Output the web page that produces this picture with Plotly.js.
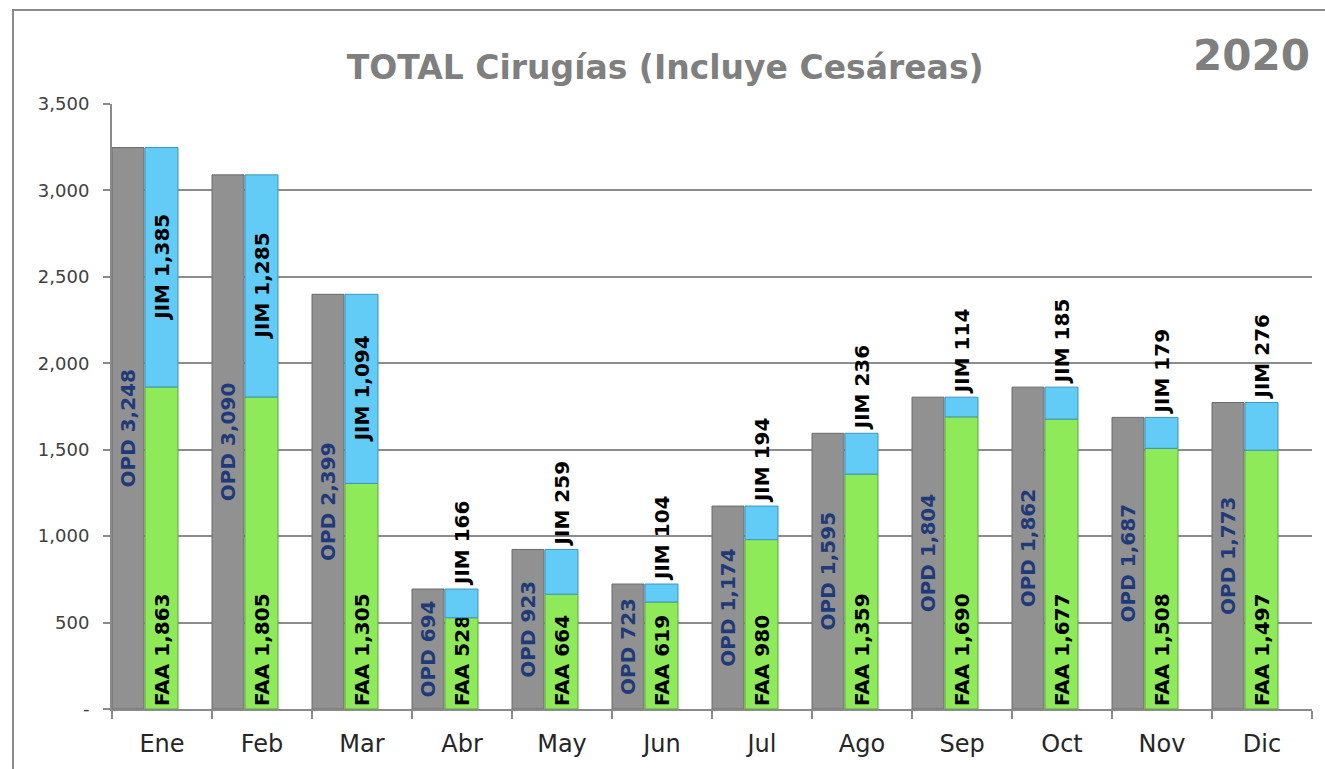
<!DOCTYPE html>
<html>
<head>
<meta charset="utf-8">
<script src="https://cdn.plot.ly/plotly-3.0.1.min.js"></script>
<style>
  html, body { margin: 0; padding: 0; background: #ffffff; }
  #wrap { position: relative; width: 1325px; height: 769px; overflow: hidden; }
  #chart { position: absolute; left: 0; top: 0; width: 1325px; height: 769px; }
  #frame { position: absolute; left: 12px; top: 9px; width: 1400px; height: 900px;
           border-left: 2px solid #8a8a8a; border-top: 2px solid #8a8a8a; pointer-events: none; }
</style>
</head>
<body>
<div id="wrap">
  <div id="chart"></div>
  <div id="frame"></div>
</div>
<script>
// ---- data ----
const months = ["Ene","Feb","Mar","Abr","May","Jun","Jul","Ago","Sep","Oct","Nov","Dic"];
const opd = [3248, 3090, 2399, 694, 923, 723, 1174, 1595, 1804, 1862, 1687, 1773];
const faa = [1863, 1805, 1305, 528, 664, 619, 980, 1359, 1690, 1677, 1508, 1497];
const jim = [1385, 1285, 1094, 166, 259, 104, 194, 236, 114, 185, 179, 276];
const yTickVals = [0, 500, 1000, 1500, 2000, 2500, 3000, 3500];
const yTickText = ["-", "500", "1,000", "1,500", "2,000", "2,500", "3,000", "3,500"];
const chartTitle = "TOTAL Cirugías (Incluye Cesáreas)";
const yearLabel = "2020";

const fmt = v => v.toLocaleString("en-US");
const FONT = "DejaVu Sans, Arial, sans-serif";
const LBL = 20;

const opdText = opd.map(v => "OPD " + fmt(v));
const faaText = faa.map(v => "FAA " + fmt(v));
const jimText = jim.map(v => "JIM " + fmt(v));
const jimPos = jim.map((v, i) => (i < 3 ? "inside" : "outside"));

const common = {
  type: "bar",
  x: months,
  textangle: -90,
  constraintext: "none",
  cliponaxis: false,
  hoverinfo: "skip"
};

const traces = [
  Object.assign({}, common, {
    name: "OPD",
    y: opd,
    offset: -0.5,
    width: 0.32,
    text: opdText,
    textposition: "inside",
    insidetextanchor: "middle",
    textfont: { family: FONT, size: LBL, color: "#1f3a78", weight: "bold" },
    marker: { color: "#919191", line: { color: "#6a6a6a", width: 1 } }
  }),
  Object.assign({}, common, {
    name: "FAA",
    y: faa,
    offset: -0.17,
    width: 0.33,
    text: faaText,
    textposition: "inside",
    insidetextanchor: "start",
    textfont: { family: FONT, size: LBL, color: "#000000", weight: "bold" },
    marker: { color: "#8fea5a", line: { color: "#5aa63a", width: 1 } }
  }),
  Object.assign({}, common, {
    name: "JIM",
    y: jim,
    base: faa,
    offset: -0.17,
    width: 0.33,
    text: jimText,
    textposition: jimPos,
    insidetextanchor: "middle",
    textfont: { family: FONT, size: LBL, color: "#000000", weight: "bold" },
    insidetextfont: { family: FONT, size: LBL, color: "#000000", weight: "bold" },
    outsidetextfont: { family: FONT, size: LBL, color: "#000000", weight: "bold" },
    marker: { color: "#62ccf6", line: { color: "#3d95c2", width: 1 } }
  })
];

const layout = {
  width: 1325,
  height: 769,
  margin: { l: 112, r: 13, t: 104, b: 60 },
  paper_bgcolor: "rgba(0,0,0,0)",
  plot_bgcolor: "#ffffff",
  barmode: "overlay",
  showlegend: false,
  hovermode: false,
  font: { family: FONT, color: "#404040" },
  title: {
    text: chartTitle,
    font: { family: FONT, size: 33, color: "#7f7f7f", weight: "bold" },
    x: 0.502, xanchor: "center",
    y: 0.912, yanchor: "middle"
  },
  xaxis: {
    type: "category",
    range: [-0.5, 11.5],
    showgrid: false,
    showline: true,
    linecolor: "#8a8a8a",
    linewidth: 2,
    ticks: "outside",
    tickson: "boundaries",
    ticklen: 8,
    tickwidth: 2,
    tickcolor: "#8a8a8a",
    tickfont: { family: FONT, size: 24, color: "#262626" },
    ticklabelstandoff: 12,
    fixedrange: true
  },
  yaxis: {
    range: [0, 3500],
    tickvals: yTickVals,
    ticktext: yTickText,
    showgrid: true,
    gridcolor: "#8c8c8c",
    gridwidth: 2,
    showline: true,
    linecolor: "#8a8a8a",
    linewidth: 2,
    ticks: "outside",
    ticklen: 7,
    tickwidth: 2,
    tickcolor: "#8a8a8a",
    tickfont: { family: FONT, size: 18, color: "#404040" },
    ticklabelstandoff: 10,
    zeroline: false,
    fixedrange: true
  },
  annotations: [
    {
      text: yearLabel,
      xref: "paper", yref: "paper",
      x: 1.0, y: 1.08,
      xanchor: "right", yanchor: "middle",
      showarrow: false,
      font: { family: FONT, size: 42, color: "#7f7f7f", weight: "bold" }
    }
  ]
};

Plotly.newPlot("chart", traces, layout, { displayModeBar: false, staticPlot: true });
</script>
</body>
</html>
